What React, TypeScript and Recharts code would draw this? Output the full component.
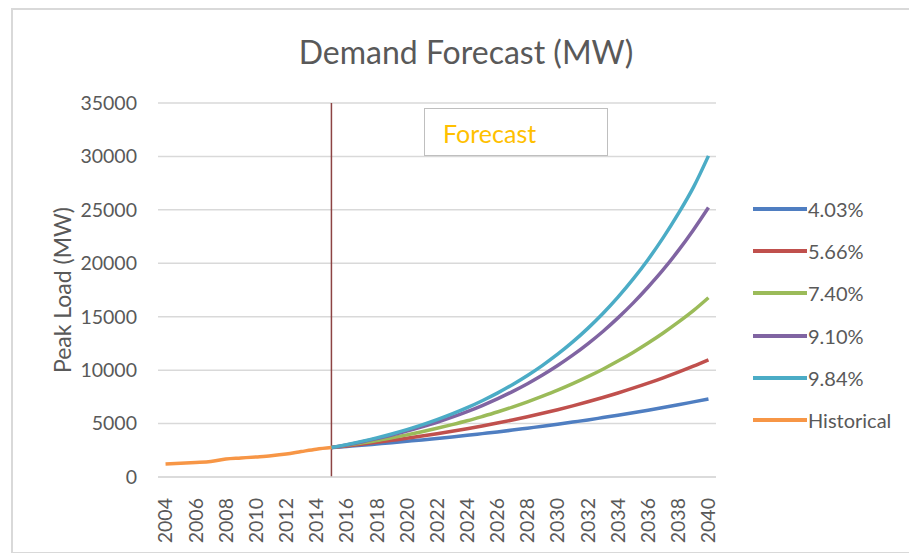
import { LineChart, Line, XAxis, YAxis, CartesianGrid, ReferenceLine } from 'recharts'

const YEARS = [
  2004, 2005, 2006, 2007, 2008, 2009, 2010, 2011, 2012, 2013, 2014, 2015, 2016, 2017, 2018, 2019, 2020, 2021, 2022,
  2023, 2024, 2025, 2026, 2027, 2028, 2029, 2030, 2031, 2032, 2033, 2034, 2035, 2036, 2037, 2038, 2039, 2040,
]

// 2004–2015
const HISTORICAL = [1220, 1290, 1360, 1450, 1680, 1780, 1880, 1990, 2150, 2380, 2600, 2750]

// 2015–2040, one value per year
const GROWTH_403 = [
  2750, 2860, 2970, 3090, 3210, 3340, 3470, 3610, 3750, 3900, 4060, 4220, 4390, 4570, 4750, 4940, 5140, 5340, 5560,
  5780, 6010, 6250, 6500, 6760, 7030, 7300,
]
const GROWTH_566 = [
  2750, 2900, 3070, 3240, 3430, 3620, 3830, 4050, 4280, 4520, 4780, 5050, 5340, 5640, 5960, 6300, 6660, 7040, 7440,
  7860, 8310, 8780, 9280, 9810, 10370, 10960,
]
const GROWTH_740 = [
  2750, 2960, 3180, 3410, 3670, 3940, 4240, 4560, 4900, 5260, 5660, 6080, 6540, 7030, 7560, 8120, 8730, 9390, 10090,
  10850, 11660, 12540, 13480, 14490, 15570, 16780,
]
const GROWTH_910 = [
  2750, 3000, 3280, 3590, 3920, 4290, 4690, 5120, 5600, 6120, 6690, 7310, 7990, 8730, 9540, 10430, 11400, 12460,
  13620, 14890, 16270, 17780, 19400, 21180, 23120, 25220,
]
const GROWTH_984 = [
  2750, 3030, 3330, 3660, 4030, 4430, 4870, 5360, 5900, 6490, 7140, 7850, 8640, 9500, 10450, 11490, 12640, 13910,
  15300, 16830, 18510, 20360, 22400, 24640, 27100, 30050,
]

const Y_TICKS = [0, 5000, 10000, 15000, 20000, 25000, 30000, 35000]
const X_TICKS = YEARS.filter((y) => y % 2 === 0)

const FORECAST_START = 2015

const SERIES = [
  { key: 'g403', name: '4.03%', color: '#4F7EC1', values: GROWTH_403, start: FORECAST_START },
  { key: 'g566', name: '5.66%', color: '#C0504D', values: GROWTH_566, start: FORECAST_START },
  { key: 'g740', name: '7.40%', color: '#9BBB59', values: GROWTH_740, start: FORECAST_START },
  { key: 'g910', name: '9.10%', color: '#8064A2', values: GROWTH_910, start: FORECAST_START },
  { key: 'g984', name: '9.84%', color: '#4BACC6', values: GROWTH_984, start: FORECAST_START },
  { key: 'hist', name: 'Historical', color: '#F79646', values: HISTORICAL, start: 2004 },
]

const rows = YEARS.map((year) => {
  const row: Record<string, number | null> = { year }
  SERIES.forEach((s) => {
    const i = year - s.start
    row[s.key] = i >= 0 && i < s.values.length ? s.values[i] : null
  })
  return row
})

const FONT = 'Lato, "Open Sans", sans-serif'
const TEXT = '#595959'

function YearTick({ x, y, payload }: any) {
  return (
    <g transform={`translate(${x},${y + 13})`}>
      <text
        x={0}
        y={0}
        dy="0.35em"
        textAnchor="end"
        transform="rotate(-90)"
        fill={TEXT}
        fontSize={19.5}
        fontFamily={FONT}
      >
        {payload.value}
      </text>
    </g>
  )
}

function AxisTitle({ viewBox }: any) {
  const cx = viewBox.x + 14
  const cy = viewBox.y + viewBox.height / 2
  return (
    <text
      x={cx}
      y={cy}
      transform={`rotate(-90, ${cx}, ${cy})`}
      textAnchor="middle"
      dominantBaseline="central"
      fill={TEXT}
      fontSize={23}
      fontFamily={FONT}
    >
      Peak Load (MW)
    </text>
  )
}

function SeriesLegend() {
  return (
    <div style={{ position: 'absolute', left: 753, top: 188, fontFamily: FONT, fontSize: 20, color: TEXT }}>
      {SERIES.map((s) => (
        <div key={s.key} style={{ display: 'flex', alignItems: 'center', height: 42.2 }}>
          <span style={{ display: 'inline-block', width: 54, height: 4, background: s.color }} />
          <span style={{ marginLeft: 1 }}>{s.name}</span>
        </div>
      ))}
    </div>
  )
}

export default function App() {
  return (
    <div style={{ position: 'absolute', left: 0, top: 0, width: 909, height: 553, background: '#fff', overflow: 'hidden' }}>
      <div
        style={{
          position: 'absolute',
          left: 11,
          top: 8,
          width: 920,
          height: 542,
          border: '2px solid #d9d9d9',
        }}
      />
      <div
        style={{
          position: 'absolute',
          left: 0,
          width: 932,
          top: 32,
          textAlign: 'center',
          fontFamily: FONT,
          fontSize: 32,
          color: TEXT,
        }}
      >
        Demand Forecast (MW)
      </div>
      <div style={{ position: 'absolute', left: 0, top: 0 }}>
        <LineChart width={909} height={553} data={rows} margin={{ top: 103, right: 193, bottom: 16, left: 48 }}>
          <CartesianGrid vertical={false} stroke="#d9d9d9" strokeWidth={1.5} />
          <XAxis
            dataKey="year"
            type="number"
            domain={[2003.5, 2040.5]}
            ticks={X_TICKS}
            interval={0}
            tick={<YearTick />}
            tickLine={false}
            axisLine={{ stroke: '#d9d9d9', strokeWidth: 1.5 }}
            height={60}
          />
          <YAxis
            domain={[0, 35000]}
            ticks={Y_TICKS}
            width={110}
            axisLine={false}
            tickLine={false}
            tickMargin={15}
            tick={{ fill: TEXT, fontSize: 19.5, fontFamily: FONT }}
            label={<AxisTitle />}
          />
          <ReferenceLine x={2015} stroke="#8C4343" strokeWidth={1.5} />
          {SERIES.map((s) => (
            <Line
              key={s.key}
              dataKey={s.key}
              name={s.name}
              type="monotone"
              stroke={s.color}
              strokeWidth={3.5}
              dot={false}
              connectNulls={false}
              isAnimationActive={false}
            />
          ))}
        </LineChart>
      </div>
      <div
        style={{
          position: 'absolute',
          left: 424,
          top: 108,
          width: 184,
          height: 48,
          border: '1.5px solid #bfbfbf',
          background: '#fff',
          fontFamily: FONT,
          fontSize: 25,
          color: '#FFC000',
          lineHeight: '48px',
          paddingLeft: 18,
          boxSizing: 'border-box',
        }}
      >
        Forecast
      </div>
      <SeriesLegend />
    </div>
  )
}
